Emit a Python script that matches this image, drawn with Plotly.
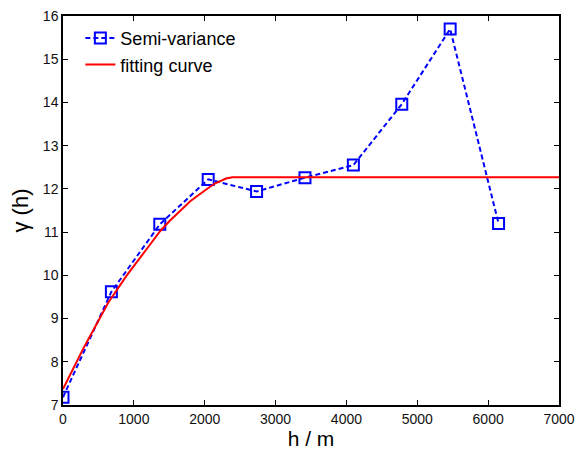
import plotly.graph_objects as go

lag_h = [0, 683, 1366, 2049, 2732, 3415, 4098, 4781, 5464, 6147]
semi_var = [7.18, 9.62, 11.18, 12.22, 11.94, 12.26, 12.55, 13.96, 15.70, 11.20]

fit_h = [0, 300, 640, 900, 1200, 1370, 1500, 1800, 2050, 2150, 2300, 2390, 7000]
fit_g = [7.37, 8.35, 9.37, 10.0, 10.65, 11.02, 11.25, 11.72, 12.02, 12.13, 12.24, 12.27, 12.27]

x_ticks = [0, 1000, 2000, 3000, 4000, 5000, 6000, 7000]
y_ticks = [7, 8, 9, 10, 11, 12, 13, 14, 15, 16]

fig = go.Figure()
fig.add_trace(go.Scatter(
    x=lag_h, y=semi_var, mode="lines+markers", name="Semi-variance",
    line=dict(color="#0000FF", width=2, dash="5px,3px"),
    marker=dict(symbol="square-open", size=11, color="#0000FF", line=dict(width=2)),
))
fig.add_trace(go.Scatter(
    x=fit_h, y=fit_g, mode="lines", name="fitting curve",
    line=dict(color="#FF0000", width=2),
))

axis_common = dict(
    automargin=False, ticklabeloverflow="allow",
    showgrid=False, zeroline=False, showline=True, linecolor="black", linewidth=1.5,
    mirror="ticks", ticks="inside", ticklen=5, tickcolor="black", tickwidth=1.2,
    tickfont=dict(family="Liberation Sans", size=14, color="#111"),
)
fig.update_layout(
    template="none",
    width=576, height=451,
    margin=dict(l=63, r=17, t=16, b=46),
    paper_bgcolor="white", plot_bgcolor="white",
    showlegend=True,
    legend=dict(x=0.035, y=0.99, xanchor="left", yanchor="top",
                bgcolor="rgba(0,0,0,0)", font=dict(family="Liberation Sans", size=18, color="black"),
                tracegroupgap=0),
    xaxis=dict(range=[0, 7000], tickvals=x_ticks,
               title=dict(text="h / m", font=dict(family="Liberation Sans", size=21, color="black"), standoff=6),
               **axis_common),
    yaxis=dict(range=[7, 16], tickvals=y_ticks,
               title=dict(text="γ (h)", font=dict(family="Liberation Sans", size=22, color="black"), standoff=8),
               **axis_common),
)
fig.write_html("out.html", config={"displayModeBar": False},
               post_script="document.body.style.margin='0';document.body.style.overflow='hidden';")
